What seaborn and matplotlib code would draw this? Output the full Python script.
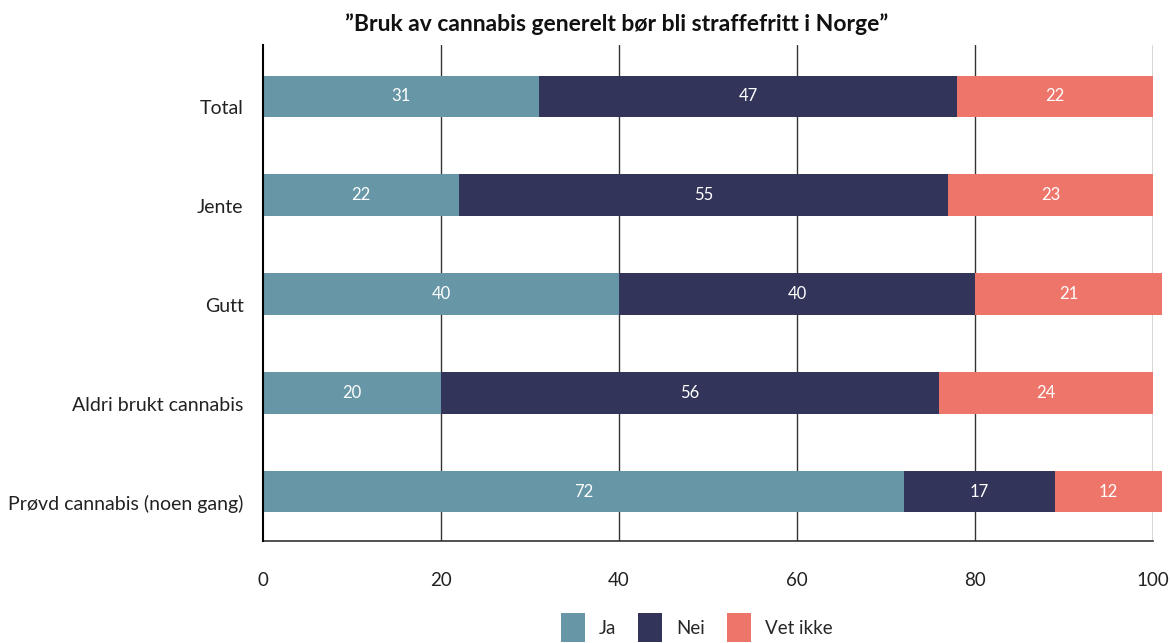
import matplotlib
matplotlib.use("Agg")
import matplotlib.pyplot as plt
import matplotlib.transforms as mtransforms
from matplotlib.patches import Patch
import seaborn as sns
import pandas as pd

categories = ["Total", "Jente", "Gutt", "Aldri brukt cannabis", "Prøvd cannabis (noen gang)"]
ja = [31, 22, 40, 20, 72]
nei = [47, 55, 40, 56, 17]
vet_ikke = [22, 23, 21, 24, 12]
series_names = ["Ja", "Nei", "Vet ikke"]
colors = ["#6797A7", "#33345A", "#EE756A"]
xticks = [0, 20, 40, 60, 80, 100]

sns.set_style("white")
plt.rcParams["font.family"] = ["Lato", "DejaVu Sans"]

df = pd.DataFrame({"kategori": categories, "Ja": ja, "Nei": nei, "Vet ikke": vet_ikke})
df["cum_nei"] = df["Ja"] + df["Nei"]
df["cum_vet"] = df["cum_nei"] + df["Vet ikke"]

fig = plt.figure(figsize=(11.71, 6.43), dpi=100)
ax = fig.add_axes([0.2246, 0.1586, 0.76, 0.7714])

# stacked bars drawn as cumulative layers, widest first
for col, color in zip(["cum_vet", "cum_nei", "Ja"], colors[::-1]):
    sns.barplot(data=df, x=col, y="kategori", orient="h", color=color,
                width=0.42, saturation=1, linewidth=0, ax=ax, zorder=3)
for p in ax.patches:
    p.set_clip_on(False)

# value labels in the middle of each segment
for i, row in df.iterrows():
    starts = [0, row["Ja"], row["cum_nei"]]
    for s, name in zip(starts, series_names):
        v = row[name]
        ax.text(s + v / 2, i, f"{v}", ha="center", va="center",
                color="white", fontsize=12, zorder=4)

ax.set_xlim(0, 100)
ax.set_ylim(4.5, -0.52)
ax.set_xticks(xticks)
ax.set_xlabel("")
ax.set_ylabel("")
for x in xticks[1:]:
    ax.axvline(x, color="#333333", lw=1, zorder=1)

for side in ["top", "right"]:
    ax.spines[side].set_visible(False)
ax.spines["left"].set_color("black")
ax.spines["left"].set_linewidth(1.5)
ax.spines["left"].set_zorder(5)
ax.spines["bottom"].set_color("#333333")
ax.spines["bottom"].set_linewidth(1.2)

ax.tick_params(axis="x", length=0, pad=22, labelsize=13.5, colors="#222222")
ax.tick_params(axis="y", length=0, pad=14, labelsize=14, colors="#222222")
offset = mtransforms.ScaledTranslation(0, -0.11, fig.dpi_scale_trans)
for lbl in ax.get_yticklabels():
    lbl.set_transform(lbl.get_transform() + offset)

fig.suptitle("\u201dBruk av cannabis generelt bør bli straffefritt i Norge\u201d",
             x=0.527, y=0.98, fontsize=16.5, fontweight="bold", color="#111111")

handles = [Patch(facecolor=c, edgecolor="none") for c in colors]
fig.legend(handles, series_names, loc="upper center", bbox_to_anchor=(0.595, 0.046),
           ncol=3, frameon=False, fontsize=13.5, handlelength=1.25, handleheight=2.0,
           columnspacing=1.2, handletextpad=0.75, borderaxespad=0, borderpad=0)

fig.savefig("out.png", dpi=100)
